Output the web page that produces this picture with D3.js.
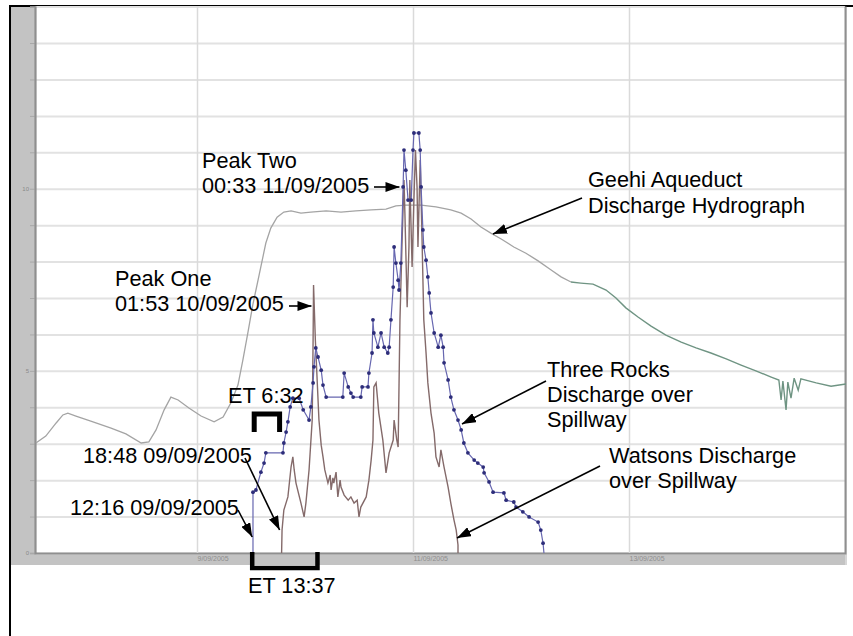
<!DOCTYPE html>
<html>
<head>
<meta charset="utf-8">
<script src="https://cdn.jsdelivr.net/npm/d3@7"></script>
<style>
  html, body { margin: 0; padding: 0; background: #fff; }
  svg { display: block; }
  text { font-family: "Liberation Sans", Arial, sans-serif; }
</style>
</head>
<body>
<svg id="chart" width="853" height="636"></svg>
<script>
// ---------------- DATA ----------------
// time: hours since 09/09/2005 00:00 ; value: discharge (chart units)
const geehiHours = [-35.8,-33.6,-31.3,-29.8,-28.7,-26.9,-23.6,-19.1,-15.8,-12.4,-10.7,-9.1,-7.3,-5.8,-4.2,-1.8,0.9,3.8,5.8,7.6,9.1,10.2,11.3,12.4,13.8,15.3,16.4,17.8,19.3,20.9,23.1,25.3,28.7,32.0,35.3,38.7,42.0,44.2,46.4,49.8,53.1,56.4,58.7,60.9,63.1,65.3,67.6,70.4,73.1,75.8,78.7,80.9,83.1];
const geehiValues = [3.02,3.21,3.57,3.79,3.84,3.76,3.62,3.43,3.27,3.02,3.05,3.38,3.93,4.28,4.20,3.98,3.76,3.60,3.73,4.14,4.61,5.30,6.04,6.81,7.63,8.51,8.92,9.22,9.36,9.39,9.33,9.36,9.39,9.36,9.39,9.42,9.44,9.53,9.55,9.55,9.50,9.42,9.33,9.17,8.95,8.78,8.62,8.40,8.23,8.02,7.77,7.58,7.44];
const geehiLateHours = [83.1,85.3,88.0,90.9,93.1,95.3,98.0,100.9,104.2,107.6,110.9,114.2,117.6,120.9,124.2,127.6,129.3,129.8,130.2,130.9,131.3,132.0,132.7,133.6,134.2,137.6,140.9,144.2];
const geehiLateValues = [7.44,7.41,7.38,7.22,7.00,6.73,6.48,6.23,5.98,5.79,5.63,5.49,5.33,5.16,5.00,4.83,4.75,4.20,4.72,3.93,4.69,4.25,4.80,4.47,4.78,4.67,4.58,4.64];

const threeRocksHours = [12.44,12.44,13.1,14.2,14.9,15.3,19.1,19.3,19.8,20.2,20.7,21.3,22.7,23.6,24.9,25.3,25.8,26.0,26.4,26.9,27.6,28.0,28.7,32.4,32.7,33.6,34.2,34.7,36.4,36.7,38.0,38.2,38.9,39.1,39.3,40.2,40.9,41.6,42.4,42.7,43.1,43.6,43.8,44.2,44.7,44.9,45.3,45.8,46.0,46.4,46.9,47.6,48.0,48.2,49.3,49.6,49.8,50.2,50.4,50.9,51.3,51.6,52.0,52.7,53.6,54.2,54.7,54.9,55.8,56.4,57.1,58.0,58.7,59.3,60.2,61.6,62.4,63.6,63.8,64.9,65.8,68.2,68.7,70.4,70.9,72.4,73.8,75.8,76.4,76.9,77.1];
const threeRocksValues = [0,1.67,1.73,2.22,2.47,2.75,2.75,3.02,3.32,3.60,4.01,4.25,4.25,3.93,3.65,4.01,4.67,5.11,5.63,5.38,5.02,4.61,4.28,4.28,4.94,4.56,4.39,4.28,4.28,4.56,4.56,4.94,5.49,6.40,6.04,5.65,6.04,5.65,5.49,5.65,6.40,7.30,8.40,7.96,7.49,7.22,7.96,10.05,11.06,10.51,9.69,9.69,11.06,11.53,11.53,11.06,10.05,8.87,8.40,8.04,7.58,7.14,6.59,6.04,5.65,5.98,5.65,5.22,4.75,4.28,3.93,3.65,3.38,3.02,2.75,2.55,2.47,2.36,2.20,1.95,1.67,1.65,1.45,1.40,1.26,1.13,0.99,0.85,0.63,0.27,0];

const watsonsHours = [18.8,18.9,19.3,20.2,20.9,21.3,21.6,22.0,23.1,23.8,24.2,24.9,25.6,25.8,25.9,26.3,26.7,27.1,27.6,28.0,28.4,29.1,29.6,29.8,30.2,30.4,30.9,31.3,31.8,32.0,32.7,33.6,34.2,34.9,35.6,36.0,36.4,37.6,38.2,38.7,39.1,39.3,39.8,40.4,41.3,42.0,42.7,43.6,43.8,44.4,44.7,45.1,45.6,46.0,46.2,46.7,47.1,47.3,47.8,48.2,48.55,48.9,49.1,49.6,50.0,50.4,50.9,51.3,52.0,52.7,53.1,53.8,54.2,54.9,55.8,56.4,57.1,57.6,58.0,58.0];
const watsonsValues = [0,0.63,1.18,1.54,2.36,2.64,2.28,1.92,1.37,0.99,1.37,2.28,3.65,5.85,7.36,5.85,4.75,3.65,2.96,2.64,2.28,1.92,2.14,1.73,2.06,1.92,2.22,1.54,2.00,1.81,1.59,1.45,1.54,1.37,1.45,0.99,1.26,1.54,2.00,2.55,3.10,4.56,4.67,3.84,3.10,2.20,2.75,3.10,3.65,3.10,2.91,6.40,8.67,10.24,9.33,6.75,8.40,10.24,7.85,9.69,11.06,10.05,8.40,10.79,8.67,6.40,5.49,4.67,3.84,3.29,2.64,2.36,2.83,2.36,1.81,1.37,0.91,0.63,0.22,0];

const xTickHours = [0, 48, 96];
const xTickLabels = ["9/09/2005", "11/09/2005", "13/09/2005"];
const yTickValues = [0, 5, 10];
const yTickLabels = ["0", "5", "10"];

// event times (hours since 09/09/2005 00:00)
const tThreeRocksStart = 12 + 16/60;   // 12:16 09/09/2005
const tWatsonsStart = 18 + 48/60;      // 18:48 09/09/2005
const tPeakOne = 24 + 1 + 53/60;       // 01:53 10/09/2005
const tPeakTwo = 48 + 33/60;           // 00:33 11/09/2005

// ---------------- CHART ----------------
const base = new Date(2005, 8, 9, 0, 0).getTime();
const toDate = h => new Date(base + h * 3600e3);
const zip = (hs, vs) => hs.map((h, i) => ({ t: toDate(h), v: vs[i] }));

const svg = d3.select("#chart");
const plot = { left: 35, right: 845, top: 6.6, bottom: 553 };

const x = d3.scaleTime()
  .domain([new Date(2005, 8, 7, 12, 0), new Date(2005, 8, 15, 0, 0)])
  .range([plot.left, plot.right]);
const y = d3.scaleLinear().domain([0, 15]).range([plot.bottom, plot.top]);

// outer frame
svg.append("rect").attr("x", 10).attr("y", 6).attr("width", 860).attr("height", 640)
  .attr("fill", "#fff").attr("stroke", "#000").attr("stroke-width", 2);

// chart image background bands
svg.append("rect").attr("x", 11).attr("y", 7).attr("width", plot.left - 11).attr("height", 565 - 7)
  .attr("fill", "#c3c3c3");
svg.append("rect").attr("x", 11).attr("y", plot.bottom).attr("width", 847 - 11).attr("height", 565 - plot.bottom)
  .attr("fill", "#c3c3c3");
svg.append("line").attr("x1", 846).attr("x2", 846).attr("y1", 7).attr("y2", 565)
  .attr("stroke", "#d6d6d6").attr("stroke-width", 2);

// horizontal gridlines
const yGrid = d3.axisLeft(y).ticks(15).tickSize(-(plot.right - plot.left)).tickFormat("");
const gy = svg.append("g").attr("transform", `translate(${plot.left},0)`).call(yGrid);
gy.select(".domain").remove();
gy.selectAll(".tick line").attr("stroke", "#e2e2e2").attr("stroke-width", 2);

// small left tick marks
const yTicks = d3.axisLeft(y).ticks(15).tickSize(5).tickFormat("");
const gyt = svg.append("g").attr("transform", `translate(${plot.left},0)`).call(yTicks);
gyt.select(".domain").attr("stroke", "#9a9a9a").attr("stroke-width", 1.5);
gyt.selectAll(".tick line").attr("stroke", "#a8a8a8");

// y tick labels (faint)
const gyl = svg.append("g").attr("transform", `translate(${plot.left - 3},0)`)
  .call(d3.axisLeft(y).tickValues(yTickValues).tickSize(0).tickFormat((d, i) => yTickLabels[i]));
gyl.select(".domain").remove();
gyl.selectAll("text").attr("fill", "#8a8a8a").attr("font-size", 6).attr("font-family", "Liberation Sans, Arial");

// vertical gridlines
const xTickDates = xTickHours.map(toDate);
const gx = svg.append("g").attr("transform", `translate(0,${plot.bottom})`)
  .call(d3.axisBottom(x).tickValues(xTickDates).tickSize(-(plot.bottom - plot.top)).tickFormat(""));
gx.select(".domain").attr("stroke", "#8f8f8f").attr("stroke-width", 2);
gx.selectAll(".tick line").attr("stroke", "#dadada").attr("stroke-width", 1.5);

// x tick labels (faint)
const gxl = svg.append("g").attr("transform", `translate(0,${plot.bottom})`)
  .call(d3.axisBottom(x).tickValues(xTickDates).tickSize(0).tickPadding(3).tickFormat((d, i) => xTickLabels[i]));
gxl.select(".domain").remove();
gxl.selectAll("text").attr("fill", "#8e8e8e").attr("font-size", 7).attr("text-anchor", "start")
  .attr("font-family", "Liberation Sans, Arial");

const line = d3.line().x(d => x(d.t)).y(d => y(d.v));

// Geehi aqueduct
svg.append("path").datum(zip(geehiHours, geehiValues)).attr("d", line)
  .attr("fill", "none").attr("stroke", "#a4a4a4").attr("stroke-width", 1.3);
svg.append("path").datum(zip(geehiLateHours, geehiLateValues)).attr("d", line)
  .attr("fill", "none").attr("stroke", "#6f9483").attr("stroke-width", 1.4);

// Watsons
const watsons = zip(watsonsHours, watsonsValues);
svg.append("path").datum(watsons).attr("d", line)
  .attr("fill", "none").attr("stroke", "#846a6a").attr("stroke-width", 1.4);

// Three Rocks
const threeRocks = zip(threeRocksHours, threeRocksValues);
svg.append("path").datum(threeRocks).attr("d", line)
  .attr("fill", "none").attr("stroke", "#6767b0").attr("stroke-width", 1.2);
svg.append("g").selectAll("circle").data(threeRocks.slice(1, -1)).join("circle")
  .attr("cx", d => x(d.t)).attr("cy", d => y(d.v)).attr("r", 1.9)
  .attr("fill", "#2d2d7a");

// ---------------- ANNOTATIONS ----------------
const defs = svg.append("defs");
defs.append("marker").attr("id", "ah").attr("viewBox", "0 0 14 10")
  .attr("refX", 14).attr("refY", 5).attr("markerWidth", 14).attr("markerHeight", 10)
  .attr("markerUnits", "userSpaceOnUse").attr("orient", "auto")
  .append("path").attr("d", "M0,0 L14,5 L0,10 Z").attr("fill", "#000");

const fs = 21.7;
function label(lines, x0, y0, lh = 25) {
  const t = svg.append("text").attr("x", x0).attr("y", y0).attr("font-size", fs).attr("fill", "#000");
  lines.forEach((s, i) => t.append("tspan").attr("x", x0).attr("dy", i === 0 ? 0 : lh).text(s));
}
function arrow(x1, y1, x2, y2) {
  svg.append("line").attr("x1", x1).attr("y1", y1).attr("x2", x2).attr("y2", y2)
    .attr("stroke", "#000").attr("stroke-width", 1.6).attr("marker-end", "url(#ah)");
}

label(["Peak Two", "00:33 11/09/2005"], 202, 168);
arrow(374, 187, x(toDate(tPeakTwo)) - 16, 187);

label(["Peak One", "01:53 10/09/2005"], 115, 286);
arrow(289, 306, x(toDate(tPeakOne)) - 2, 306);

label(["Geehi Aqueduct", "Discharge Hydrograph"], 588, 187, 26);
arrow(582, 198, 493, 234);

label(["Three Rocks", "Discharge over", "Spillway"], 547, 377);
arrow(546, 381, 462, 424);

label(["Watsons Discharge", "over Spillway"], 609, 463);
arrow(600, 466, x(toDate(58.0)) - 1, 538);

label(["18:48 09/09/2005"], 83, 463);
arrow(245, 458, x(toDate(tWatsonsStart)) - 2, 530);

label(["12:16 09/09/2005"], 70, 515);
arrow(238, 510, x(toDate(tThreeRocksStart)), 537);

// ET 6:32 bracket
label(["ET 6:32"], 228, 403);
const bx1 = x(toDate(tThreeRocksStart)) + 2, bx2 = x(toDate(tWatsonsStart)) - 2;
svg.append("path").attr("d", `M${bx1},432 L${bx1},414 L${bx2},414 L${bx2},432`)
  .attr("fill", "none").attr("stroke", "#000").attr("stroke-width", 5);

// ET 13:37 bracket
const cx1 = x(toDate(tThreeRocksStart)), cx2 = x(toDate(tPeakOne)) + 4;
svg.append("path").attr("d", `M${cx1},552 L${cx1},568 L${cx2},568 L${cx2},552`)
  .attr("fill", "none").attr("stroke", "#000").attr("stroke-width", 4.5);
label(["ET 13:37"], 248, 593);
</script>
</body>
</html>
